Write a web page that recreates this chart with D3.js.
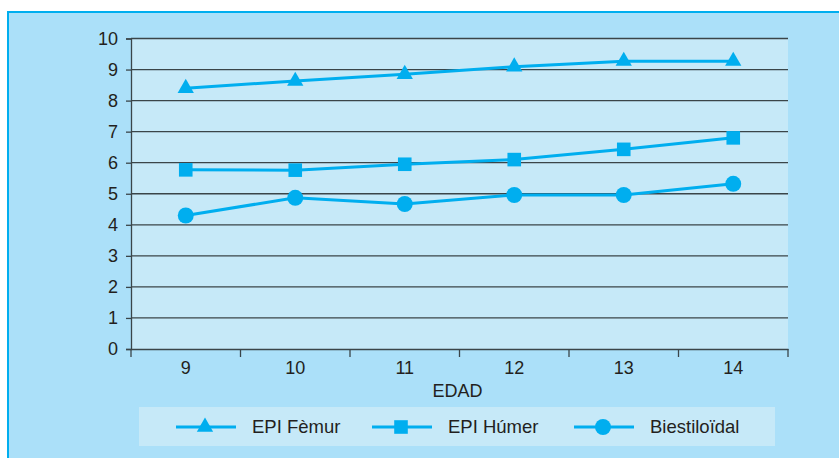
<!DOCTYPE html>
<html><head><meta charset="utf-8">
<script src="https://cdn.jsdelivr.net/npm/d3@7"></script>
<style>
html,body{margin:0;padding:0;background:#fff;}
svg{display:block;font-family:"Liberation Sans",Arial,Helvetica,sans-serif;}
</style></head>
<body>
<svg id="chart" width="839" height="458"></svg>
<script>
const categories = ["9","10","11","12","13","14"];
const femur = [8.4, 8.63, 8.85, 9.09, 9.27, 9.27];
const humer = [5.77, 5.76, 5.95, 6.1, 6.43, 6.8];
const biest = [4.3, 4.87, 4.67, 4.96, 4.96, 5.32];
const yTicks = [0,1,2,3,4,5,6,7,8,9,10];
const seriesNames = ["EPI Fèmur","EPI Húmer","Biestiloïdal"];
const xTitle = "EDAD";

(function(){
const series = [
  {name: seriesNames[0], values: femur, symbol: d3.symbolTriangle, size: 115},
  {name: seriesNames[1], values: humer, symbol: d3.symbolSquare, size: 185},
  {name: seriesNames[2], values: biest, symbol: d3.symbolCircle, size: 200}
];

const svg = d3.select("#chart");
const blue = "#00aeef";
const panelFill = "#abe0f9";
const plotFill = "#c6e9f8";
const textColor = "#231f20";
const fontFam = "Liberation Sans, Arial, sans-serif";

svg.append("rect").attr("x", 8).attr("y", 12).attr("width", 850).attr("height", 460)
  .attr("fill", panelFill).attr("stroke", blue).attr("stroke-width", 2);

const pL = 131, pR = 788, pT = 38.5, pB = 349;
const x = d3.scaleBand().domain(categories).range([pL, pR]);
const y = d3.scaleLinear().domain([0, 10]).range([pB, pT]);

svg.append("rect").attr("x", pL).attr("y", pT).attr("width", pR-pL).attr("height", pB-pT).attr("fill", plotFill);

svg.append("g").selectAll("line").data(yTicks.filter(d=>d>0)).join("line")
  .attr("x1", pL).attr("x2", pR).attr("y1", d=>y(d)).attr("y2", d=>y(d))
  .attr("stroke", "#3a4549").attr("stroke-width", 1.3);

const yAxis = svg.append("g").attr("transform", `translate(${pL},0)`)
  .call(d3.axisLeft(y).tickValues(yTicks).tickSize(5).tickPadding(8).tickFormat(d3.format("d")));
yAxis.select(".domain").attr("stroke", "#3a4549").attr("stroke-width", 1.3);
yAxis.selectAll(".tick line").attr("stroke", "#3a4549").attr("stroke-width", 1.3);
yAxis.selectAll("text").attr("fill", textColor).attr("font-size", 18).attr("font-family", fontFam);

const xAxis = svg.append("g").attr("transform", `translate(0,${pB})`)
  .call(d3.axisBottom(x).tickSize(0).tickPadding(12));
xAxis.select(".domain").attr("stroke", "#3a4549").attr("stroke-width", 1.3);
xAxis.selectAll("text").attr("fill", textColor).attr("font-size", 18).attr("font-family", fontFam);
const bounds = categories.map(c => x(c)).concat([pR]);
xAxis.append("g").selectAll("line").data(bounds).join("line")
  .attr("x1", d=>d).attr("x2", d=>d).attr("y1", 0).attr("y2", 8)
  .attr("stroke", "#3a4549").attr("stroke-width", 1.3);

svg.append("text").attr("x", 457.5).attr("y", 397).attr("text-anchor", "middle")
  .attr("fill", textColor).attr("font-size", 18).attr("font-family", fontFam).text(xTitle);

const line = d3.line().x((d,i)=>x(categories[i]) + x.bandwidth()/2).y(d=>y(d));
series.forEach(s => {
  svg.append("path").datum(s.values).attr("d", line)
    .attr("fill", "none").attr("stroke", blue).attr("stroke-width", 3);
  svg.append("g").selectAll("path").data(s.values).join("path")
    .attr("transform", (d,i)=>`translate(${x(categories[i]) + x.bandwidth()/2},${y(d)})`)
    .attr("d", d3.symbol().type(s.symbol).size(s.size)).attr("fill", blue);
});

svg.append("rect").attr("x", 139).attr("y", 407).attr("width", 636).attr("height", 39).attr("fill", plotFill);
const legendX = [176, 372, 574];
const legY = 427;
series.forEach((s, i) => {
  const lx = legendX[i];
  svg.append("line").attr("x1", lx).attr("x2", lx + 60).attr("y1", legY).attr("y2", legY)
    .attr("stroke", blue).attr("stroke-width", 3);
  svg.append("path").attr("transform", `translate(${lx + 29},${legY})`)
    .attr("d", d3.symbol().type(s.symbol).size(s.size)).attr("fill", blue);
  svg.append("text").attr("x", lx + 76).attr("y", legY + 6).attr("fill", textColor)
    .attr("font-size", 18.5).attr("font-family", fontFam).text(s.name);
});
})();
</script>
</body></html>
